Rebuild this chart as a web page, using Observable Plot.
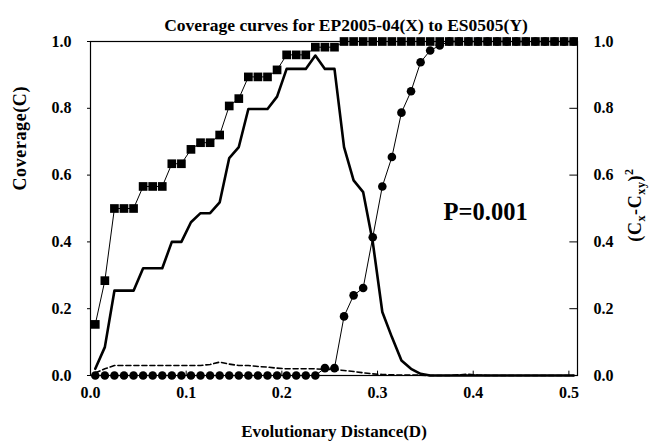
<!DOCTYPE html>
<html><head><meta charset="utf-8">
<script src="https://cdn.jsdelivr.net/npm/d3@7"></script>
<script src="https://cdn.jsdelivr.net/npm/@observablehq/plot@0.6"></script>
<style>
body{margin:0;background:#fff}
#chart{width:652px;height:446px}
</style>
</head><body><div id="chart"></div>
<script>
// Evolutionary distance (D) sample points
const distance = [0.005,0.015,0.025,0.035,0.045,0.055,0.065,0.075,0.085,0.095,
  0.105,0.115,0.125,0.135,0.145,0.155,0.165,0.175,0.185,0.195,
  0.205,0.215,0.225,0.235,0.245,0.255,0.265,0.275,0.285,0.295,
  0.305,0.315,0.325,0.335,0.345,0.355,0.365,0.375,0.385,0.395,
  0.405,0.415,0.425,0.435,0.445,0.455,0.465,0.475,0.485,0.495,0.505];
// Coverage, squares series
const coverageSquares = [0.153,0.284,0.50,0.50,0.50,0.566,0.566,0.566,0.634,0.634,
  0.677,0.697,0.697,0.72,0.807,0.829,0.894,0.894,0.894,0.915,
  0.96,0.96,0.96,0.983,0.983,0.983,1,1,1,1,
  1,1,1,1,1,1,1,1,1,1,
  1,1,1,1,1,1,1,1,1,1,1];
// Coverage, circles series
const coverageCircles = [0,0,0,0,0,0,0,0,0,0,
  0,0,0,0,0,0,0,0,0,0,
  0,0,0,0,0.022,0.022,0.177,0.24,0.262,0.414,
  0.566,0.654,0.787,0.851,0.938,0.973,0.988,1,1,1,
  1,1,1,1,1,1,1,1,1,1,1];
// Thick solid curve
const coverageSolid = [0.02,0.085,0.254,0.254,0.254,0.321,0.321,0.321,0.40,0.40,
  0.459,0.486,0.486,0.518,0.651,0.684,0.798,0.798,0.798,0.835,
  0.918,0.918,0.918,0.958,0.918,0.918,0.684,0.584,0.549,0.40,
  0.19,0.115,0.045,0.02,0.005,0,0,0,0,0,
  0,0,0,0,0,0,0,0,0,0,0];
// (Cx-Cxy)^2, dashed curve (right axis)
const squaredDiff = [0.008,0.02,0.03,0.03,0.03,0.03,0.03,0.03,0.03,0.03,
  0.03,0.03,0.033,0.04,0.034,0.03,0.03,0.027,0.025,0.022,
  0.02,0.02,0.02,0.02,0.018,0.018,0.015,0.012,0.008,0.005,
  0.003,0.002,0.001,0.001,0.001,0,0,0,0.002,0.004,
  0.001,0,0,0,0,0,0,0,0,0,0];
const xTicks = [0,0.1,0.2,0.3,0.4,0.5];
const yTicks = [0,0.2,0.4,0.6,0.8,1.0];
const titleText = "Coverage curves for EP2005-04(X) to ES0505(Y)";
const xLabel = "Evolutionary Distance(D)";
const yLabel = "Coverage(C)";
const annotation = "P=0.001";
const annotationPos = {D: 0.413, C: 0.49};

const rows = distance.map((d, i) => ({
  D: d, sq: coverageSquares[i], ci: coverageCircles[i], so: coverageSolid[i], da: squaredDiff[i]
}));
const fmt = d => d.toFixed(1);
const xMax = 0.509;

const plot = Plot.plot({
  width: 652, height: 446,
  marginLeft: 90, marginRight: 75, marginTop: 41, marginBottom: 71,
  style: {fontFamily: "'Liberation Serif', 'Times New Roman', serif", fontSize: "16px", fontWeight: "bold", background: "#fff", color: "#000"},
  x: {domain: [0, xMax]},
  y: {domain: [0, 1]},
  marks: [
    Plot.axisX({ticks: xTicks, tickFormat: fmt, tickSize: 0, tickPadding: 11, label: null}),
    Plot.axisY({anchor: "left", ticks: yTicks, tickFormat: fmt, tickSize: 3, tickPadding: 16, label: null}),
    Plot.axisY({anchor: "right", ticks: yTicks, tickFormat: fmt, tickSize: 0, tickPadding: 16, label: null}),
    Plot.ruleX(xTicks, {x: d => d, y1: 0, y2: 0.013, stroke: "#000"}),
    Plot.ruleY(yTicks, {y: d => d, x1: xMax - 0.008, x2: xMax, stroke: "#000"}),
    Plot.line(rows, {x: "D", y: "da", stroke: "#000", strokeWidth: 1.6, strokeDasharray: "5,3"}),
    Plot.line(rows, {x: "D", y: "so", stroke: "#000", strokeWidth: 2.6}),
    Plot.line(rows, {x: "D", y: "sq", stroke: "#000", strokeWidth: 1}),
    Plot.dot(rows, {x: "D", y: "sq", symbol: "square", r: 4.9, fill: "#000"}),
    Plot.line(rows, {x: "D", y: "ci", stroke: "#000", strokeWidth: 1}),
    Plot.dot(rows, {x: "D", y: "ci", r: 4.3, fill: "#000"}),
    Plot.frame({stroke: "#000", strokeWidth: 1.2}),
    Plot.text([annotation], {x: () => annotationPos.D, y: () => annotationPos.C, text: d => d, fontSize: 24.5, fontWeight: "bold"}),
    Plot.text([titleText], {frameAnchor: "top", dx: 12, dy: -23, text: d => d, fontSize: 17.5}),
    Plot.text([xLabel], {frameAnchor: "bottom", dy: 61, text: d => d, fontSize: 17}),
    Plot.text([yLabel], {frameAnchor: "left", dx: -70, dy: -18, rotate: -90, text: d => d, fontSize: 18})
  ]
});
document.getElementById("chart").appendChild(plot);

// widen the rotated left label slightly, as in the reference
d3.select(plot).selectAll("text").filter(function(){ return this.textContent === yLabel; })
  .attr("letter-spacing", 0.6);

// Right axis label with sub/superscripts
const svg = d3.select(plot);
const t = svg.append("text")
  .attr("transform", "translate(637,205) rotate(-90)")
  .attr("text-anchor", "middle")
  .attr("dominant-baseline", "middle")
  .attr("font-size", 18).attr("font-weight", "bold")
  .attr("letter-spacing", 0.6)
  .attr("fill", "#000");
t.append("tspan").text("(C");
t.append("tspan").attr("font-size", 12).attr("dy", 5).text("x");
t.append("tspan").attr("dy", -5).text("-C");
t.append("tspan").attr("font-size", 12).attr("dy", 5).text("xy");
t.append("tspan").attr("dy", -5).text(")");
t.append("tspan").attr("font-size", 12).attr("dy", -7).text("2");
</script>
</body></html>
